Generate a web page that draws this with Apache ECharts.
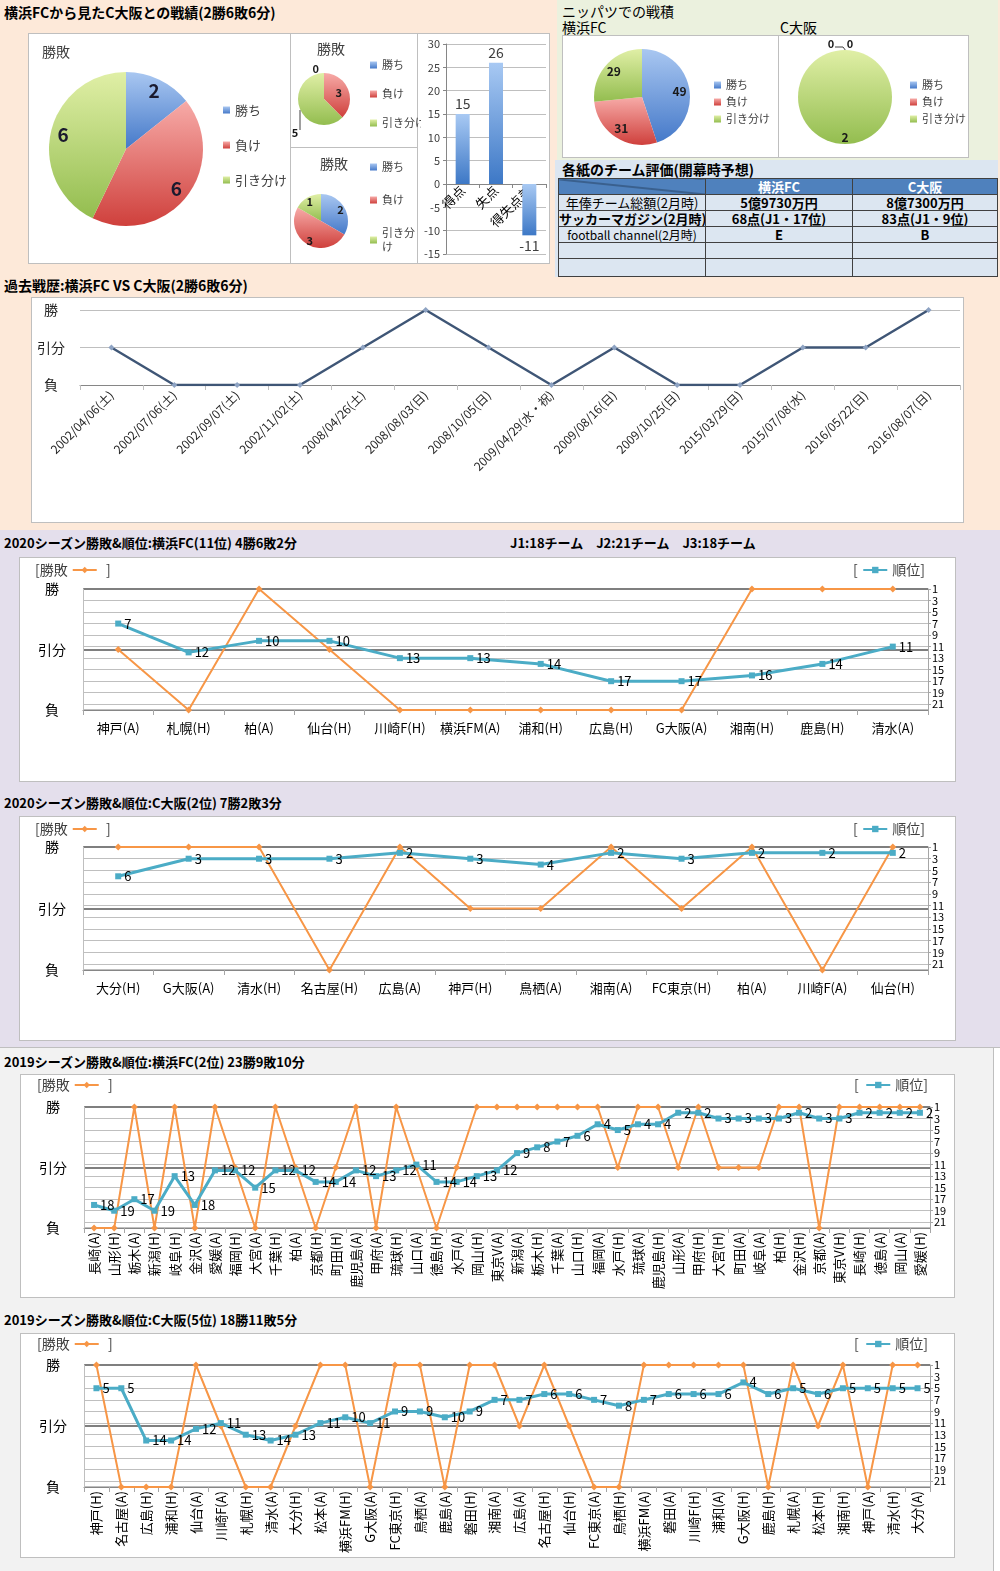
<!DOCTYPE html>
<html><head><meta charset="utf-8">
<script src="https://cdn.jsdelivr.net/npm/echarts@6/dist/echarts.min.js"></script>
<style>
body{margin:0;width:1000px;height:1571px;position:relative;font-family:"Noto Sans CJK JP","Noto Sans",sans-serif;background:#fff;overflow:hidden}
.a{position:absolute}
.box{position:absolute;background:#fff;border:1px solid #bfbfbf;box-sizing:border-box}
.t{position:absolute;font-weight:bold;font-size:13px;white-space:nowrap;color:#000;line-height:16px}
table.ev{position:absolute;left:558px;top:178px;width:439px;border-collapse:collapse;table-layout:fixed;font-size:13px}
table.ev td{border:1px solid #404040;height:15px;padding:0;text-align:center;line-height:15px;background:#dce6f1;white-space:nowrap;overflow:hidden}
table.ev tr.h td{background:#4f81bd;color:#fff;font-weight:bold;height:15px}
</style></head><body>
<!-- section backgrounds -->
<div class="a" style="left:0;top:0;width:1000px;height:530px;background:#fde9d9"></div>
<div class="a" style="left:557px;top:0;width:441px;height:160px;background:#ebf1de"></div>
<div class="a" style="left:555px;top:160px;width:443px;height:117px;background:#dce6f1"></div>
<div class="a" style="left:0;top:530px;width:1000px;height:518px;background:#e4dfec;border-bottom:1px solid #bfbfbf;box-sizing:border-box"></div>
<div class="a" style="left:0;top:1048px;width:994px;height:523px;background:#f2f2f2;border-right:1px solid #bfbfbf;box-sizing:border-box"></div>

<!-- titles -->
<div class="t" style="left:4px;top:4px;font-size:14px">横浜FCから見たC大阪との戦績(2勝6敗6分)</div>
<div class="t" style="left:562px;top:3px;font-weight:normal;font-size:14px">ニッパツでの戦積</div>
<div class="t" style="left:562px;top:19px;font-weight:normal;font-size:14px">横浜FC</div>
<div class="t" style="left:780px;top:19px;font-weight:normal;font-size:14px">C大阪</div>
<div class="t" style="left:562px;top:161px;font-size:14px">各紙のチーム評価(開幕時予想)</div>
<div class="t" style="left:4px;top:277px;font-size:14px">過去戦歴:横浜FC VS C大阪(2勝6敗6分)</div>
<div class="t" style="left:4px;top:535px">2020シーズン勝敗&amp;順位:横浜FC(11位) 4勝6敗2分</div>
<div class="t" style="left:510px;top:535px">J1:18チーム　J2:21チーム　J3:18チーム</div>
<div class="t" style="left:4px;top:795px">2020シーズン勝敗&amp;順位:C大阪(2位) 7勝2敗3分</div>
<div class="t" style="left:4px;top:1054px">2019シーズン勝敗&amp;順位:横浜FC(2位) 23勝9敗10分</div>
<div class="t" style="left:4px;top:1312px">2019シーズン勝敗&amp;順位:C大阪(5位) 18勝11敗5分</div>

<!-- top-left white area -->
<div class="box" style="left:28px;top:33px;width:522px;height:231px"></div>
<div class="a" style="left:290px;top:33px;width:1px;height:231px;background:#bfbfbf"></div>
<div class="a" style="left:417px;top:33px;width:1px;height:231px;background:#bfbfbf"></div>
<div class="a" style="left:290px;top:147px;width:128px;height:1px;background:#bfbfbf"></div>
<div id="goalBar" class="a" style="left:418px;top:34px;width:131px;height:229px"></div>
<div id="pieBig" class="a" style="left:29px;top:34px;width:260px;height:228px"></div>
<div id="pieTop" class="a" style="left:291px;top:34px;width:130px;height:112px"></div>
<div id="pieBot" class="a" style="left:291px;top:148px;width:130px;height:115px"></div>

<!-- top-right pies -->
<div class="box" style="left:562px;top:35px;width:217px;height:123px"></div>
<div class="box" style="left:778px;top:35px;width:191px;height:123px"></div>
<div id="pieYFC" class="a" style="left:563px;top:36px;width:214px;height:121px"></div>
<div id="pieCO" class="a" style="left:779px;top:36px;width:189px;height:121px"></div>

<!-- table -->
<table class="ev">
<colgroup><col style="width:147px"><col style="width:147px"><col style="width:145px"></colgroup>
<tr class="h"><td style="background:linear-gradient(to top right,#4f81bd calc(50% - 1px),#243f60 50%,#4f81bd calc(50% + 1px))"></td><td id="h1"></td><td id="h2"></td></tr>
<tr><td id="r1"></td><td id="r1a" style="font-weight:bold"></td><td id="r1b" style="font-weight:bold"></td></tr>
<tr><td id="r2" style="font-weight:bold"></td><td id="r2a" style="font-weight:bold"></td><td id="r2b" style="font-weight:bold"></td></tr>
<tr><td id="r3" style="font-size:12px"></td><td id="r3a" style="font-weight:bold"></td><td id="r3b" style="font-weight:bold"></td></tr>
<tr><td></td><td></td><td></td></tr>
<tr><td style="height:17px"></td><td></td><td></td></tr>
</table>

<!-- past record -->
<div class="box" style="left:31px;top:297px;width:933px;height:226px"></div>
<div id="past" class="a" style="left:32px;top:298px;width:931px;height:224px"></div>

<!-- season charts -->
<div class="box" style="left:19px;top:557px;width:937px;height:225px"></div>
<div id="y2020" class="a" style="left:20px;top:558px;width:935px;height:223px"></div>
<div class="box" style="left:19px;top:816px;width:937px;height:225px"></div>
<div id="c2020" class="a" style="left:20px;top:817px;width:935px;height:223px"></div>
<div class="box" style="left:20px;top:1074px;width:935px;height:224px"></div>
<div id="y2019" class="a" style="left:21px;top:1075px;width:933px;height:222px"></div>
<div class="box" style="left:20px;top:1333px;width:935px;height:225px"></div>
<div id="c2019" class="a" style="left:21px;top:1334px;width:933px;height:223px"></div>

<script>
// ---------------- data ----------------
const resultNames = ['負', '引分', '勝'];
const pieNames = ['勝ち', '負け', '引き分け'];
const h2hAll = [2, 6, 6];
const h2hTop = [0, 3, 5];
const h2hBottom = [2, 3, 1];
const goalCats = ['得点', '失点', '得失点差'];
const goalVals = [15, 26, -11];
const nippatsuYFC = [49, 31, 29];
const nippatsuCO = [0, 0, 2];

const tableHeader = ['横浜FC', 'C大阪'];
const tableRowNames = ['年俸チーム総額(2月時)', 'サッカーマガジン(2月時)', 'football channel(2月時)'];
const tableYFC = ['5億9730万円', '68点(J1・17位)', 'E'];
const tableCO = ['8億7300万円', '83点(J1・9位)', 'B'];

const pastDates = ['2002/04/06(土)', '2002/07/06(土)', '2002/09/07(土)', '2002/11/02(土)', '2008/04/26(土)', '2008/08/03(日)', '2008/10/05(日)', '2009/04/29(水・祝)', '2009/08/16(日)', '2009/10/25(日)', '2015/03/29(日)', '2015/07/08(水)', '2016/05/22(日)', '2016/08/07(日)'];
const pastResults = ['引分', '負', '負', '負', '引分', '勝', '引分', '負', '引分', '負', '負', '引分', '引分', '勝'];

const yfc2020Opp = ['神戸(A)', '札幌(H)', '柏(A)', '仙台(H)', '川崎F(H)', '横浜FM(A)', '浦和(H)', '広島(H)', 'G大阪(A)', '湘南(H)', '鹿島(H)', '清水(A)'];
const yfc2020Res = ['引分', '負', '勝', '引分', '負', '負', '負', '負', '負', '勝', '勝', '勝'];
const yfc2020Rank = [7, 12, 10, 10, 13, 13, 14, 17, 17, 16, 14, 11];

const co2020Opp = ['大分(H)', 'G大阪(A)', '清水(H)', '名古屋(H)', '広島(A)', '神戸(H)', '鳥栖(A)', '湘南(A)', 'FC東京(H)', '柏(A)', '川崎F(A)', '仙台(H)'];
const co2020Res = ['勝', '勝', '勝', '負', '勝', '引分', '引分', '勝', '引分', '勝', '負', '勝'];
const co2020Rank = [6, 3, 3, 3, 2, 3, 4, 2, 3, 2, 2, 2];

const yfc2019Opp = ['長崎(A)', '山形(H)', '栃木(A)', '新潟(H)', '岐阜(H)', '金沢(A)', '愛媛(A)', '福岡(H)', '大宮(A)', '千葉(H)', '柏(A)', '京都(H)', '町田(H)', '鹿児島(A)', '甲府(A)', '琉球(H)', '山口(A)', '徳島(H)', '水戸(A)', '岡山(H)', '東京V(A)', '新潟(A)', '栃木(H)', '千葉(A)', '山口(H)', '福岡(A)', '水戸(H)', '琉球(A)', '鹿児島(H)', '山形(A)', '甲府(H)', '大宮(H)', '町田(A)', '岐阜(A)', '柏(H)', '金沢(H)', '京都(A)', '東京V(H)', '長崎(H)', '徳島(A)', '岡山(A)', '愛媛(H)'];
const yfc2019Res = ['負', '負', '勝', '負', '勝', '負', '勝', '引分', '負', '勝', '引分', '負', '引分', '勝', '負', '勝', '引分', '負', '引分', '勝', '勝', '勝', '勝', '勝', '勝', '勝', '引分', '勝', '勝', '引分', '勝', '引分', '引分', '引分', '勝', '勝', '負', '勝', '勝', '勝', '勝', '勝'];
const yfc2019Rank = [18, 19, 17, 19, 13, 18, 12, 12, 15, 12, 12, 14, 14, 12, 13, 12, 11, 14, 14, 13, 12, 9, 8, 7, 6, 4, 5, 4, 4, 2, 2, 3, 3, 3, 3, 2, 3, 3, 2, 2, 2, 2];

const co2019Opp = ['神戸(H)', '名古屋(A)', '広島(H)', '浦和(H)', '仙台(A)', '川崎F(A)', '札幌(H)', '清水(A)', '大分(H)', '松本(A)', '横浜FM(H)', 'G大阪(A)', 'FC東京(H)', '鳥栖(A)', '鹿島(A)', '磐田(H)', '湘南(A)', '広島(A)', '名古屋(H)', '仙台(H)', 'FC東京(A)', '鳥栖(H)', '横浜FM(A)', '磐田(A)', '川崎F(H)', '浦和(A)', 'G大阪(H)', '鹿島(H)', '札幌(A)', '松本(H)', '湘南(H)', '神戸(A)', '清水(H)', '大分(A)'];
const co2019Res = ['勝', '負', '負', '負', '勝', '引分', '負', '負', '引分', '勝', '勝', '負', '勝', '勝', '負', '勝', '勝', '引分', '勝', '引分', '負', '負', '勝', '勝', '勝', '勝', '勝', '負', '勝', '引分', '勝', '負', '勝', '勝'];
const co2019Rank = [5, 5, 14, 14, 12, 11, 13, 14, 13, 11, 10, 11, 9, 9, 10, 9, 7, 7, 6, 6, 7, 8, 7, 6, 6, 6, 4, 6, 5, 6, 5, 5, 5, 5];

// ---------------- helpers ----------------
const FONT = '"Noto Sans CJK JP","Noto Sans",sans-serif';
function grad(a, b) {
  return { type: 'linear', x: 0, y: 0, x2: 0, y2: 1, colorStops: [{ offset: 0, color: a }, { offset: 1, color: b }] };
}
const PIE_COLORS = [grad('#a9c7f1', '#4579c9'), grad('#f7aba8', '#cf403c'), grad('#e0efa6', '#93bd4f')];
function mk(id) { return echarts.init(document.getElementById(id), null, { renderer: 'canvas' }); }
function pieData(vals, perItem) {
  return pieNames.map((n, i) => Object.assign({ name: n, value: vals[i], itemStyle: { color: PIE_COLORS[i] } }, perItem ? perItem(i) : {}));
}
function pieLegend(left, top, gap, size, lh, fmt) {
  return {
    orient: 'vertical', left: left, top: top, itemGap: gap, itemWidth: 7, itemHeight: 7, icon: 'rect', padding: 0,
    data: pieNames, formatter: fmt || '{name}',
    textStyle: { fontSize: size, color: '#404040', fontFamily: FONT, lineHeight: lh }
  };
}
const NOB = { outerBoundsMode: 'none' };

// table text
document.getElementById('h1').textContent = tableHeader[0];
document.getElementById('h2').textContent = tableHeader[1];
tableRowNames.forEach((n, i) => {
  document.getElementById('r' + (i + 1)).textContent = n;
  document.getElementById('r' + (i + 1) + 'a').textContent = tableYFC[i];
  document.getElementById('r' + (i + 1) + 'b').textContent = tableCO[i];
});

// ---------------- big pie ----------------
mk('pieBig').setOption({
  animation: false,
  textStyle: { fontFamily: FONT },
  title: { text: '勝敗', left: 8, top: 6, textStyle: { fontSize: 14, fontWeight: 'normal', color: '#404040', fontFamily: FONT } },
  legend: pieLegend(194, 68, 19, 13, 16),
  series: [
    { type: 'pie', center: [97, 115], radius: 77, startAngle: 90, data: pieData(h2hAll), label: { show: false }, labelLine: { show: false } },
    { type: 'pie', center: [97, 115], radius: [46, 77], startAngle: 90, silent: true, data: pieNames.map((n, i) => ({ name: n, value: h2hAll[i] })),
      itemStyle: { color: 'rgba(0,0,0,0)' }, label: { show: true, position: 'inside', formatter: '{c}', fontSize: 19, fontWeight: 'bold', color: '#1a1a2e', fontFamily: FONT }, labelLine: { show: false } }
  ]
});

// ---------------- small pie top ----------------
mk('pieTop').setOption({
  animation: false,
  textStyle: { fontFamily: FONT },
  title: { text: '勝敗', left: 21, top: 3, textStyle: { fontSize: 14, fontWeight: 'normal', color: '#404040', fontFamily: FONT } },
  legend: pieLegend(79, 24, 15, 11, 14),
  series: [
    { type: 'pie', center: [33, 65], radius: 26, startAngle: 90, avoidLabelOverlap: false,
      data: pieData(h2hTop, i => i === 1 ? { label: { position: 'inside' } } : {}),
      label: { show: true, position: 'outside', formatter: '{c}', width: 14, overflow: 'none', fontSize: 11, fontWeight: 'bold', color: '#1a1a1a', fontFamily: FONT },
      labelLine: { show: false, length: 4, length2: 0 },
      labelLayout: p => (p.dataIndex === 2 ? { x: 4, y: 99, align: 'center', verticalAlign: 'middle' } : {}) }
  ],
  graphic: [{ type: 'line', silent: true, shape: { x1: 9, y1: 76, x2: 9, y2: 96 }, style: { stroke: '#404040', lineWidth: 1 } }]
});

// ---------------- small pie bottom ----------------
mk('pieBot').setOption({
  animation: false,
  textStyle: { fontFamily: FONT },
  title: { text: '勝敗', left: 24, top: 4, textStyle: { fontSize: 14, fontWeight: 'normal', color: '#404040', fontFamily: FONT } },
  legend: pieLegend(79, 12, 19, 11, 14, n => n === '引き分け' ? '引き分\nけ' : n),
  series: [
    { type: 'pie', center: [30, 73], radius: 27, startAngle: 90, data: pieData(h2hBottom), label: { show: false }, labelLine: { show: false } },
    { type: 'pie', center: [30, 73], radius: [12, 27], startAngle: 90, silent: true, data: pieNames.map((n, i) => ({ name: n, value: h2hBottom[i] })),
      itemStyle: { color: 'rgba(0,0,0,0)' }, label: { show: true, position: 'inside', formatter: '{c}', fontSize: 11, fontWeight: 'bold', color: '#1a1a1a', fontFamily: FONT }, labelLine: { show: false } }
  ]
});

// ---------------- goal bar ----------------
mk('goalBar').setOption({
  animation: false,
  textStyle: { fontFamily: FONT },
  grid: Object.assign({ left: 28, right: 3, top: 10, bottom: 9 }, NOB),
  xAxis: { type: 'category', data: goalCats, offset: -70, axisLine: { onZero: false, lineStyle: { color: '#868686' } }, axisTick: { show: true, length: 4 },
    axisLabel: { rotate: 45, fontSize: 13, color: '#000', margin: 4, interval: 0 } },
  yAxis: { type: 'value', min: -15, max: 30, interval: 5, axisLine: { show: true, lineStyle: { color: '#868686' } }, axisTick: { show: true, length: 3 },
    axisLabel: { fontSize: 11, color: '#404040', margin: 6 }, splitLine: { lineStyle: { color: '#bfbfbf' } } },
  series: [{ type: 'bar', barWidth: 14, z: 1, data: goalVals.map(v => ({ value: v, label: { position: v < 0 ? 'bottom' : 'top' } })),
    itemStyle: { color: grad('#a8c9f3', '#3d78c6') },
    label: { show: true, fontSize: 14, color: '#404040', distance: 3 } }]
});

// ---------------- nippatsu pies ----------------
mk('pieYFC').setOption({
  animation: false,
  textStyle: { fontFamily: FONT },
  legend: pieLegend(151, 42, 3, 11, 14),
  series: [
    { type: 'pie', center: [79, 61], radius: 48, startAngle: 90, data: pieData(nippatsuYFC), label: { show: false }, labelLine: { show: false } },
    { type: 'pie', center: [79, 61], radius: [22, 48], startAngle: 90, silent: true, data: pieNames.map((n, i) => ({ name: n, value: nippatsuYFC[i] })),
      itemStyle: { color: 'rgba(0,0,0,0)' }, label: { show: true, position: 'inside', formatter: '{c}', fontSize: 12, fontWeight: 'bold', color: '#1a1a1a', fontFamily: FONT }, labelLine: { show: false } }
  ]
});
mk('pieCO').setOption({
  animation: false,
  textStyle: { fontFamily: FONT },
  legend: pieLegend(131, 42, 3, 11, 14),
  series: [
    { type: 'pie', center: [66, 61], radius: 47, startAngle: 90, avoidLabelOverlap: false,
      data: pieData(nippatsuCO, i => i === 2 ? { label: { show: false } } : {}),
      label: { show: true, position: 'outside', formatter: '{c}', width: 14, overflow: 'none', fontSize: 11, fontWeight: 'bold', color: '#1a1a1a', fontFamily: FONT },
      labelLine: { show: false, length: 4, length2: 0 },
      labelLayout: p => (p.dataIndex === 0 ? { x: 52, y: 8, align: 'center', verticalAlign: 'middle' } : (p.dataIndex === 1 ? { x: 71, y: 8, align: 'center', verticalAlign: 'middle' } : {})) },
    { type: 'pie', center: [66, 61], radius: [28, 47], startAngle: 90, silent: true,
      data: pieNames.map((n, i) => ({ name: n, value: nippatsuCO[i], label: { show: i === 2 } })),
      itemStyle: { color: 'rgba(0,0,0,0)' }, label: { position: 'inside', formatter: '{c}', fontSize: 12, fontWeight: 'bold', color: '#1a1a1a', fontFamily: FONT }, labelLine: { show: false } }
  ],
  graphic: [{ type: 'polyline', silent: true, shape: { points: [[56, 11], [64, 11], [67, 15]] }, style: { stroke: '#404040', lineWidth: 1, fill: null } }]
});

// ---------------- past record ----------------
mk('past').setOption({
  animation: false,
  textStyle: { fontFamily: FONT },
  grid: Object.assign({ left: 48, right: 3, top: 12, bottom: 137 }, NOB),
  xAxis: { type: 'category', data: pastDates, boundaryGap: true,
    axisLine: { lineStyle: { color: '#868686' } }, axisTick: { show: true, length: 5, interval: 0, lineStyle: { color: '#bfbfbf' } },
    axisLabel: { interval: 0, rotate: 45, fontSize: 12, color: '#262626', margin: 8 } },
  yAxis: { type: 'value', min: 0, max: 2, interval: 1, axisLine: { show: false }, axisTick: { show: false },
    axisLabel: { formatter: v => resultNames[v], fontSize: 14, color: '#262626', margin: 29, align: 'center' },
    splitLine: { lineStyle: { color: '#bfbfbf' } } },
  series: [{ type: 'line', data: pastResults.map(r => resultNames.indexOf(r)), symbol: 'diamond', symbolSize: 6,
    itemStyle: { color: '#8ea3c3' }, lineStyle: { color: '#3f5676', width: 2.5 } }]
});

// ---------------- season charts ----------------
function season(id, opp, res, rank, o) {
  mk(id).setOption({
    animation: false,
    textStyle: { fontFamily: FONT },
    grid: Object.assign({ left: o.left, right: o.right, top: o.top, bottom: o.bottom }, NOB),
    legend: [
      { data: ['勝敗'], left: o.legL, top: o.legT, align: 'right', formatter: '[{name}', itemWidth: 24, itemHeight: 8, padding: 0,
        textStyle: { fontSize: 14, color: '#404040', fontFamily: FONT } },
      { data: ['順位'], right: o.legR, top: o.legT, align: 'left', formatter: '{name}]', itemWidth: 24, itemHeight: 8, padding: 0,
        textStyle: { fontSize: 14, color: '#404040', fontFamily: FONT } }
    ],
    graphic: [
      { type: 'text', left: o.brL, top: o.legT, style: { text: ']', fontSize: 14, fill: '#404040', fontFamily: FONT } },
      { type: 'text', left: o.brR, top: o.legT, style: { text: '[', fontSize: 14, fill: '#404040', fontFamily: FONT } }
    ],
    xAxis: { type: 'category', data: opp, boundaryGap: true,
      axisLine: { lineStyle: { color: '#868686' } }, axisTick: { show: true, length: 5, interval: 0, lineStyle: { color: '#a6a6a6' } },
      axisLabel: { interval: 0, rotate: o.rot, fontSize: o.xfs, color: '#000', margin: o.xm } },
    yAxis: [
      { type: 'value', position: 'right', inverse: true, min: 1, max: 22, interval: 2,
        axisLine: { show: true, lineStyle: { color: '#a6a6a6' } }, axisTick: { show: true, length: 3, lineStyle: { color: '#a6a6a6' } },
        axisLabel: { formatter: v => (v > 21 ? '' : String(v)), fontSize: 11, lineHeight: 11, color: '#000', margin: 4, showMinLabel: true, showMaxLabel: false, hideOverlap: false },
        splitLine: { lineStyle: { color: '#bfbfbf' } } },
      { type: 'value', position: 'left', min: 0, max: 2, interval: 1,
        axisLine: { show: true, lineStyle: { color: '#bfbfbf' } }, axisTick: { show: false },
        axisLabel: { formatter: v => resultNames[v], fontSize: 14, color: '#000', margin: 31, align: 'center' },
        splitLine: { lineStyle: { color: ['#bfbfbf', '#7f7f7f', '#7f7f7f'], width: 2 } } }
    ],
    series: [
      { name: '勝敗', type: 'line', yAxisIndex: 1, data: res.map(r => resultNames.indexOf(r)), symbol: 'diamond', symbolSize: 7,
        itemStyle: { color: '#f79646' }, lineStyle: { color: '#f79646', width: 2 } },
      { name: '順位', type: 'line', yAxisIndex: 0, data: rank, symbol: 'rect', symbolSize: 6,
        itemStyle: { color: '#4bacc6' }, lineStyle: { color: '#4bacc6', width: 3 },
        label: { show: true, position: 'right', distance: 3, fontSize: o.lfs, color: '#000', fontFamily: FONT } }
    ]
  });
}
season('y2020', yfc2020Opp, yfc2020Res, yfc2020Rank, { left: 63, right: 27, top: 31, bottom: 71, legL: 15, legT: 5, legR: 30, brL: 86, brR: 833, rot: 0, xfs: 13, xm: 12, lfs: 13 });
season('c2020', co2020Opp, co2020Res, co2020Rank, { left: 63, right: 27, top: 30, bottom: 70, legL: 15, legT: 5, legR: 30, brL: 86, brR: 833, rot: 0, xfs: 13, xm: 12, lfs: 13 });
season('y2019', yfc2019Opp, yfc2019Res, yfc2019Rank, { left: 63, right: 24, top: 32, bottom: 69, legL: 16, legT: 3, legR: 26, brL: 87, brR: 833, rot: 90, xfs: 13, xm: 4, lfs: 13 });
season('c2019', co2019Opp, co2019Res, co2019Rank, { left: 63, right: 24, top: 31, bottom: 70, legL: 16, legT: 3, legR: 26, brL: 87, brR: 833, rot: 90, xfs: 13, xm: 4, lfs: 13 });
</script>
</body></html>
